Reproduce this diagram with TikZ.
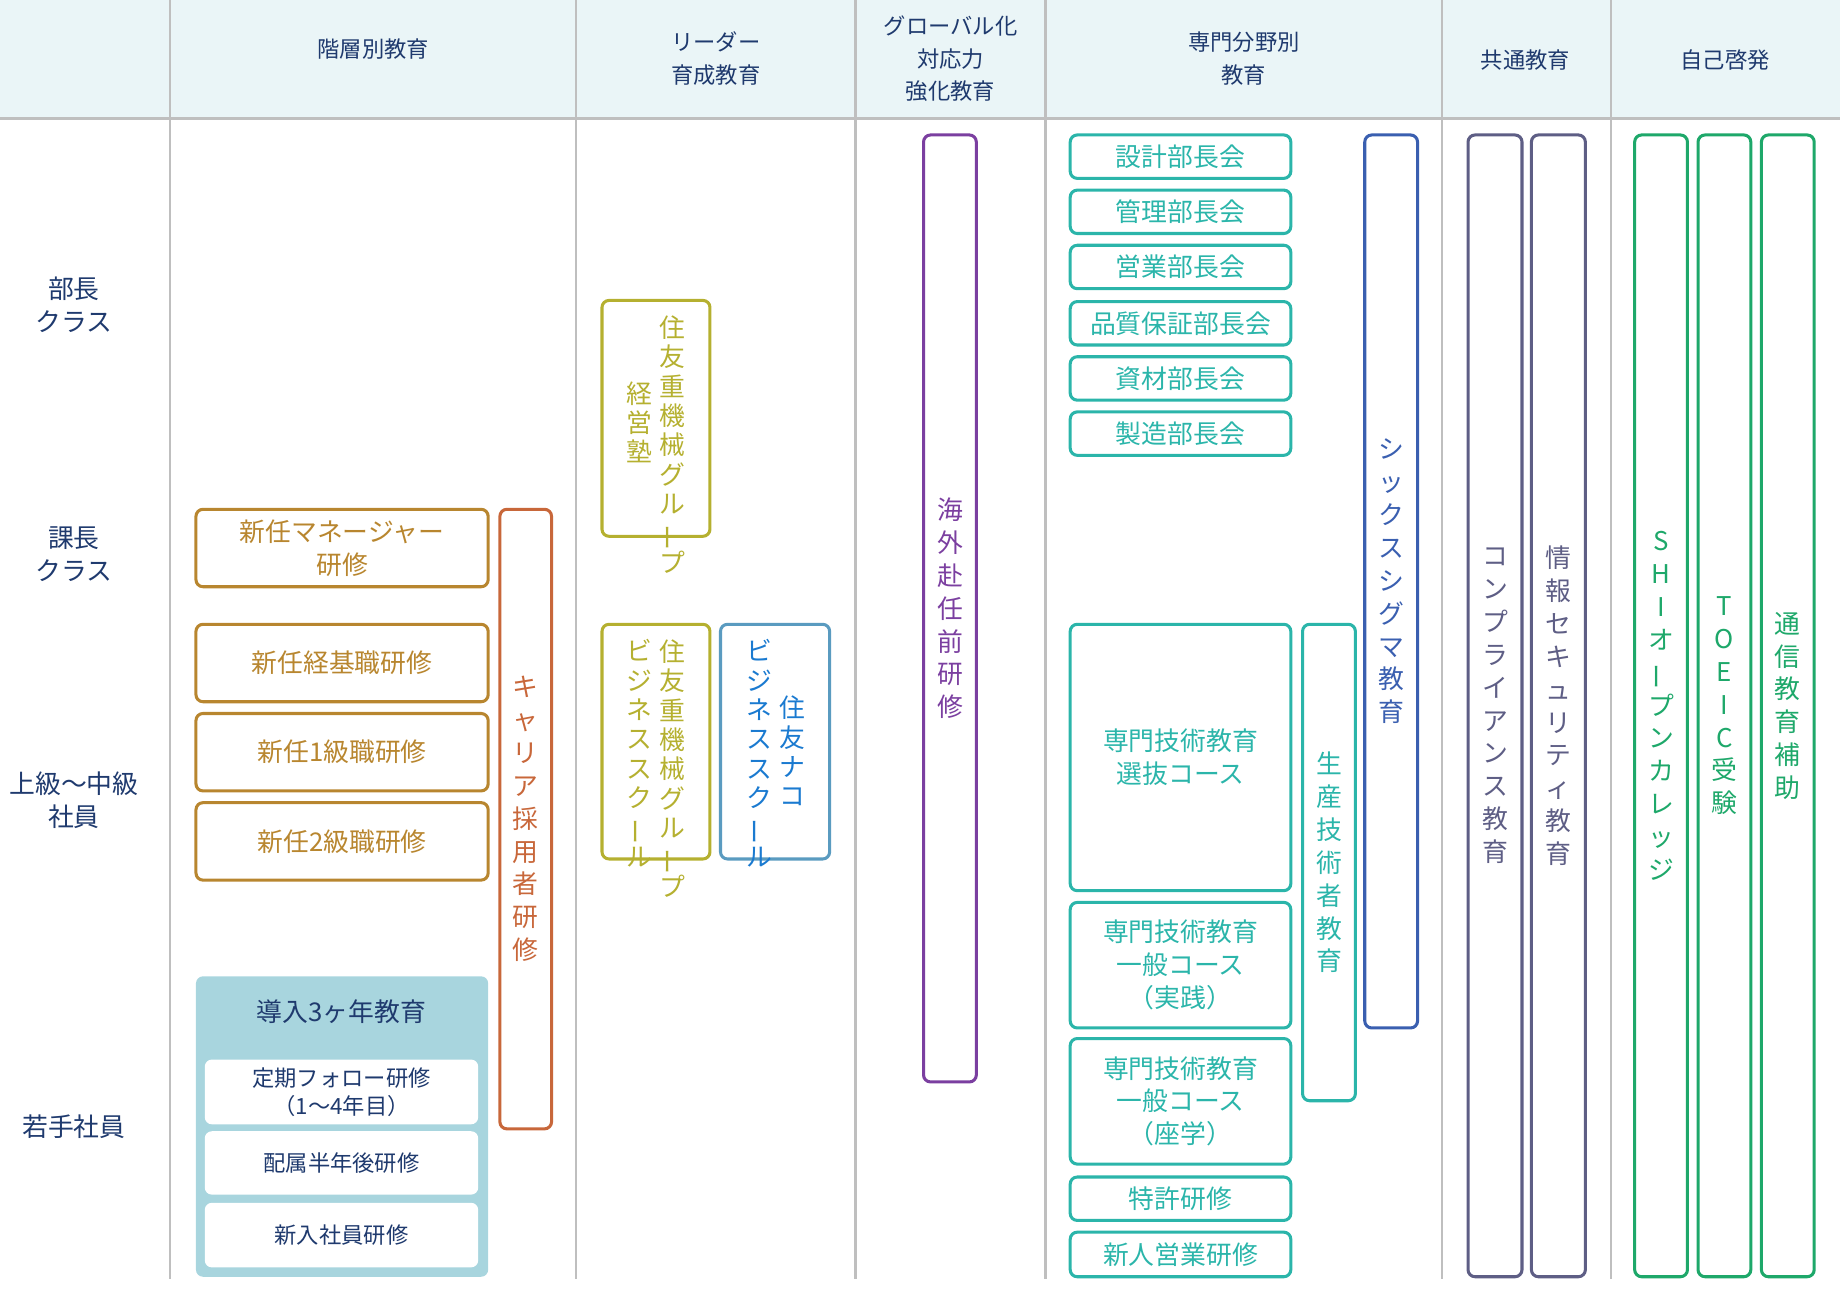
\documentclass[tikz,border=0pt]{standalone}
\usepackage{fontspec}
\setmainfont{Noto Sans CJK JP}
\usetikzlibrary{calc}
\definecolor{navy}{HTML}{1F3A6E}
\definecolor{hdr}{HTML}{EAF5F7}
\definecolor{brn}{HTML}{B8862F}
\definecolor{crr}{HTML}{C8673A}
\definecolor{olv}{HTML}{B5B030}
\definecolor{nakob}{HTML}{5A9BC0}
\definecolor{nakot}{HTML}{1A7AD0}
\definecolor{prp}{HTML}{7B3FA0}
\definecolor{tel}{HTML}{2BB5AA}
\definecolor{ssg}{HTML}{3A5FB0}
\definecolor{cmn}{HTML}{5E5E85}
\definecolor{grn}{HTML}{1EA86A}
\definecolor{intro}{HTML}{A8D5DE}
\newcommand\vb{\rotatebox[origin=c]{90}{ー}}
% box: name, x1, y1, x2, y2, colour, text
\newcommand\bx[7]{%
  \draw[box, draw=#6] (#2,#3) rectangle (#4,#5);
  \node[txt, text=#6] (#1) at ({(#2+#4)/2},{(#3+#5)/2}) {#7};}
\begin{document}
\begin{tikzpicture}[x=0.5pt, y=-0.5pt,
    box/.style={line width=1.3pt, rounded corners=3pt},
    txt/.style={align=center, font=\fontsize{11}{14}\selectfont},
    head/.style={align=center, text=navy, font=\fontsize{9.5}{14}\selectfont},
    row/.style={align=center, text=navy, font=\fontsize{11}{14}\selectfont},
    vtxt/.style={align=center, font=\fontsize{11}{12.5}\selectfont}]
    \useasboundingbox (0,0) rectangle (1568,1108);
    % header band
    \fill[hdr] (0,0) rectangle (1568,100);
    \draw[gray!50, line width=1pt] (0,101) -- (1568,101);
    \foreach \x in {145,491,729,891,1229,1373}
        \draw[gray!50, line width=1pt] (\x,0) -- (\x,1090);
    \node[head] (h1) at (318,42) {階層別教育};
    \node[head] (h2) at (610,50) {リーダー\\育成教育};
    \node[head] (h3) at (810,50) {グローバル化\\対応力\\強化教育};
    \node[head] (h4) at (1060,50) {専門分野別\\教育};
    \node[head] (h5) at (1300,51) {共通教育};
    \node[head] (h6) at (1470,51) {自己啓発};
    % rows
    \node[row] (r1) at (63,260) {部長\\クラス};
    \node[row] (r2) at (63,472) {課長\\クラス};
    \node[row] (r3) at (63,682) {上級～中級\\社員};
    \node[row] (r4) at (63,960) {若手社員};
    % 階層別教育
    \bx{mgr}{167}{434}{416}{500}{brn}{新任マネージャー\\研修}
    \bx{kei}{167}{532}{416}{598}{brn}{新任経基職研修}
    \bx{ikyu}{167}{608}{416}{674}{brn}{新任1級職研修}
    \bx{nikyu}{167}{684}{416}{750}{brn}{新任2級職研修}
    \bx{career}{426}{434}{470}{962}{crr}{キ\\ャ\\リ\\ア\\採\\用\\者\\研\\修}
    \fill[intro, rounded corners=3pt] (167,832) rectangle (416,1088);
    \node[txt, text=navy] (introT) at (291,862) {導入3ヶ年教育};
    \foreach \ya/\yb/\t [count=\i] in {903/958/{定期フォロー研修\\（1～4年目）},964/1018/配属半年後研修,1025/1080/新入社員研修}
        \node[txt, text=navy, fill=white, rounded corners=3pt, minimum width=116.5pt,
              minimum height={(\yb-\ya)*0.5pt}, font=\fontsize{9.5}{12}\selectfont]
              (intro\i) at (291,{(\ya+\yb)/2}) {\t};
    % リーダー育成教育
    \draw[box, draw=olv] (513,256) rectangle (605,457);
    \node[vtxt, text=olv, anchor=north] (jk1) at (573,262) {住\\友\\重\\機\\械\\グ\\ル\\\vb\\プ};
    \node[vtxt, text=olv, anchor=north] (jk2) at (545,318) {経\\営\\塾};
    \draw[box, draw=olv] (513,532) rectangle (605,732);
    \node[vtxt, text=olv, anchor=north] (bs1) at (573,538) {住\\友\\重\\機\\械\\グ\\ル\\\vb\\プ};
    \node[vtxt, text=olv, anchor=north] (bs2) at (545,538) {ビ\\ジ\\ネ\\ス\\ス\\ク\\\vb\\ル};
    \draw[box, draw=nakob] (614,532) rectangle (707,732);
    \node[vtxt, text=nakot, anchor=north] (nk1) at (675,586) {住\\友\\ナ\\コ};
    \node[vtxt, text=nakot, anchor=north] (nk2) at (647,538) {ビ\\ジ\\ネ\\ス\\ス\\ク\\\vb\\ル};
    % グローバル化対応力強化教育
    \bx{kaigai}{787}{115}{832}{922}{prp}{海\\外\\赴\\任\\前\\研\\修}
    % 専門分野別教育
    \foreach \ya/\yb/\t [count=\i] in {115/152/設計部長会,162/199/管理部長会,209/246/営業部長会,257/294/品質保証部長会,304/341/資材部長会,351/388/製造部長会,1003/1040/特許研修,1050/1088/新人営業研修}
        {\bx{sp\i}{912}{\ya}{1100}{\yb}{tel}{\t}}
    \bx{senbatsu}{912}{532}{1100}{759}{tel}{専門技術教育\\選抜コース}
    \bx{jissen}{912}{769}{1100}{876}{tel}{専門技術教育\\一般コース\\（実践）}
    \bx{zagaku}{912}{885}{1100}{992}{tel}{専門技術教育\\一般コース\\（座学）}
    \bx{seisan}{1110}{532}{1155}{938}{tel}{生\\産\\技\\術\\者\\教\\育}
    \bx{sixsig}{1163}{115}{1208}{876}{ssg}{シ\\ッ\\ク\\ス\\シ\\グ\\マ\\教\\育}
    % 共通教育
    \bx{comp}{1251}{115}{1297}{1088}{cmn}{コ\\ン\\プ\\ラ\\イ\\ア\\ン\\ス\\教\\育}
    \bx{sec}{1305}{115}{1351}{1088}{cmn}{情\\報\\セ\\キ\\ュ\\リ\\テ\\ィ\\教\\育}
    % 自己啓発
    \bx{shi}{1393}{115}{1438}{1088}{grn}{S\\H\\I\\オ\\\vb\\プ\\ン\\カ\\レ\\ッ\\ジ}
    \bx{toeic}{1447}{115}{1492}{1088}{grn}{T\\O\\E\\I\\C\\受\\験}
    \bx{tsushin}{1501}{115}{1546}{1088}{grn}{通\\信\\教\\育\\補\\助}
\end{tikzpicture}
\end{document}
